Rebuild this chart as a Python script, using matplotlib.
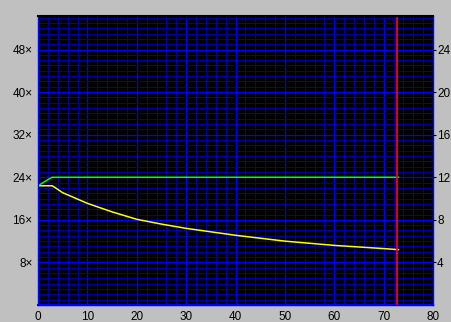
import matplotlib
matplotlib.use("Agg")
import matplotlib.pyplot as plt
import numpy as np
from matplotlib.ticker import MultipleLocator, FixedLocator

# values (left axis units)
yellow_x = [0, 2.9, 5, 10, 15, 20, 25, 30, 40, 50, 60, 70, 73]
yellow_y = [22.4, 22.4, 21.1, 19.1, 17.5, 16.1, 15.2, 14.4, 13.1, 12.0, 11.2, 10.6, 10.4]
green_x = [0, 2.8, 73]
green_y = [22.4, 24.0, 24.0]
marker_x = 72.8

left_ticks = [8, 16, 24, 32, 40, 48]
left_labels = ["8\u00d7", "16\u00d7", "24\u00d7", "32\u00d7", "40\u00d7", "48\u00d7"]
right_ticks = [4, 8, 12, 16, 20, 24]
x_ticks = [0, 10, 20, 30, 40, 50, 60, 70, 80]

major_c = "#0000ff"
minor_c = "#0000a0"

plt.rcParams["font.family"] = ["Liberation Sans", "DejaVu Sans"]

fig = plt.figure(figsize=(4.51, 3.22), dpi=100, facecolor="#c0c0c0")
ax = fig.add_axes([38 / 451, 17 / 322, 395 / 451, 289 / 322])
ax.set_facecolor("black")
ax.set_xlim(0, 80)
ax.set_ylim(0, 54.3)

ax.xaxis.set_major_locator(FixedLocator(x_ticks))
ax.xaxis.set_minor_locator(MultipleLocator(2))
ax.yaxis.set_major_locator(FixedLocator(left_ticks))
ax.yaxis.set_minor_locator(MultipleLocator(1))
ax.set_yticklabels(left_labels)

ax.grid(which="minor", color=minor_c, linewidth=0.75)
ax.grid(which="major", color=major_c, linewidth=0.9)
ax.axhline(0, color=major_c, linewidth=1.5, clip_on=False)
ax.set_axisbelow(True)

for s in ["left", "bottom", "right"]:
    ax.spines[s].set_color(major_c)
    ax.spines[s].set_linewidth(1)
ax.spines["top"].set_color("black")
ax.spines["top"].set_linewidth(1.5)

ax.tick_params(which="both", length=0, labelsize=8.5, colors="black")
ax.tick_params(axis="y", pad=4)
ax.tick_params(axis="x", pad=4)

ax.plot(green_x, green_y, color="#00ff00", linewidth=1.1)
ax.plot(yellow_x, yellow_y, color="#ffff00", linewidth=1.1)
ax.axvline(marker_x, color="#ff0000", linewidth=1.3)

ax2 = ax.twinx()
ax2.set_ylim(0, 54.3 / 2)
ax2.yaxis.set_major_locator(FixedLocator(right_ticks))
ax2.tick_params(length=2, labelsize=8.5, colors="black", pad=1)
for s in ax2.spines.values():
    s.set_visible(False)

fig.savefig("out.png", dpi=100, facecolor=fig.get_facecolor())
